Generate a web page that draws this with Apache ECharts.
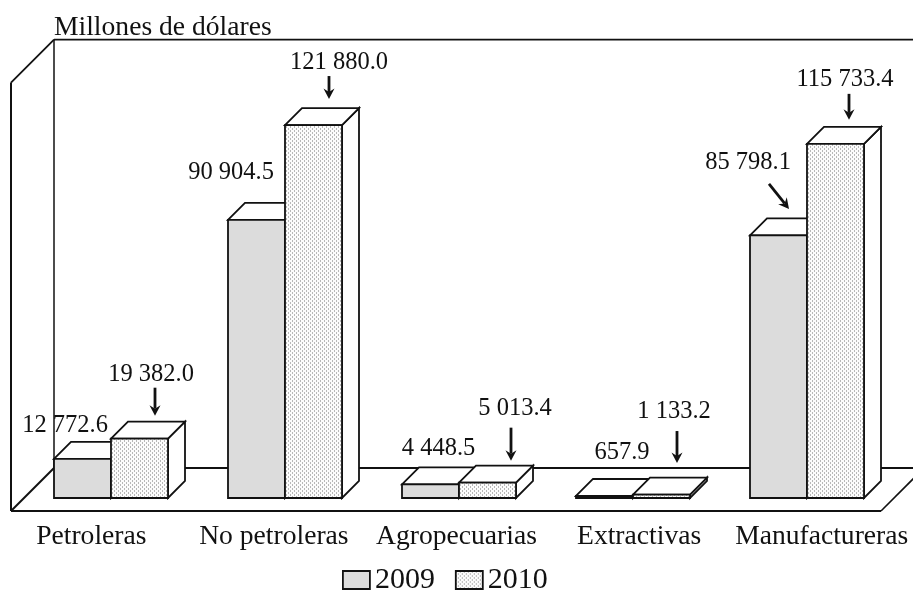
<!DOCTYPE html>
<html lang="es">
<head>
<meta charset="utf-8">
<title>Exportaciones</title>
<style>
  html, body { margin: 0; padding: 0; background: #fff; }
  #chart { width: 913px; height: 590px; }
</style>
<script src="https://cdn.jsdelivr.net/npm/echarts@6/dist/echarts.min.js"></script>
</head>
<body>
<div id="chart"></div>
<script>
// Values, in millions of dollars
const categories = ['Petroleras', 'No petroleras', 'Agropecuarias', 'Extractivas', 'Manufactureras'];
const values2009 = [12772.6, 90904.5, 4448.5, 657.9, 85798.1];
const values2010 = [19382.0, 121880.0, 5013.4, 1133.2, 115733.4];
const seriesNames = ['2009', '2010'];
const unitTitle = 'Millones de dólares';

// Callout placement, relative to the top centre of each bar's front face
const labelOffsets2009 = [[-17.5, -33], [-25.5, -47], [8, -36], [17.5, -43], [-30.5, -72.5]];
const labelOffsets2010 = [[11.5, -64], [25.5, -62], [27.5, -74], [12.5, -82.5], [9.5, -64]];
const arrows2009 = [null, null, null, null, [-9.5, -51.5, 10.5, -26.5]];
const arrows2010 = [
  [15.5, -51, 15.5, -23], [15.5, -49, 15.5, -26], [23.5, -55, 23.5, -22],
  [15.5, -63.5, 15.5, -31.5], [13.5, -50, 13.5, -24]
];

// Oblique projection of the box and of the floor
const BAR_WIDTH = 57;
const BAR_DEPTH = 17;
const WALL_BACK = 30;
const FLOOR_FRONT = 13;
const INK = '#111';
const FONT = '"Liberation Serif", "Times New Roman", serif';
const TEXT_SIZE = 27.6;
const VALUE_SIZE = 24.5;

// Stippled fill of the second series
function stipple() {
  const c = document.createElement('canvas');
  c.width = 4; c.height = 4;
  const g = c.getContext('2d');
  g.fillStyle = '#fcfcfc';
  g.fillRect(0, 0, 4, 4);
  g.fillStyle = '#b8b8b8';
  g.fillRect(0, 0, 1, 2);
  g.fillRect(2, 2, 1, 2);
  return c;
}
const FILL_2009 = '#dcdcdc';
const FILL_2010 = { image: stipple(), repeat: 'repeat' };

const formatValue = v => {
  const [whole, dec] = v.toFixed(1).split('.');
  return whole.replace(/\B(?=(\d{3})+$)/g, ' ') + '.' + dec;
};

function face(points, fill) {
  return {
    type: 'polygon',
    shape: { points },
    style: { fill, stroke: INK, lineWidth: 1.8, lineJoin: 'miter' }
  };
}

function arrow(x1, y1, x2, y2) {
  const a = Math.atan2(y2 - y1, x2 - x1);
  const ux = Math.cos(a), uy = Math.sin(a);
  const back = 10.5, half = 5.5, notch = 7;
  return [
    {
      type: 'line',
      shape: { x1, y1, x2: x2 - ux * notch, y2: y2 - uy * notch },
      style: { stroke: INK, lineWidth: 2.8 }
    },
    {
      type: 'polygon',
      shape: {
        points: [
          [x2, y2],
          [x2 - ux * back - uy * half, y2 - uy * back + ux * half],
          [x2 - ux * notch, y2 - uy * notch],
          [x2 - ux * back + uy * half, y2 - uy * back - ux * half]
        ]
      },
      style: { fill: INK }
    }
  ];
}

// One 3D bar: front, top and side faces, with its value callout
function barRenderer(side, fill, labelOffsets, arrowList) {
  return function (params, api) {
    const i = api.value(0);
    const v = api.value(1);
    const [cx, top] = api.coord([i, v]);
    const [, base] = api.coord([i, 0]);
    const x0 = side === 0 ? cx - BAR_WIDTH : cx;
    const x1 = x0 + BAR_WIDTH;
    const d = BAR_DEPTH;
    const mid = (x0 + x1) / 2;
    const children = [
      face([[x1, top], [x1 + d, top - d], [x1 + d, base - d], [x1, base]], '#fff'),
      face([[x0, top], [x0 + d, top - d], [x1 + d, top - d], [x1, top]], '#fff'),
      face([[x0, top], [x1, top], [x1, base], [x0, base]], fill)
    ];
    const off = labelOffsets[i];
    children.push({
      type: 'text',
      style: {
        text: formatValue(v),
        x: mid + off[0],
        y: top + off[1],
        align: 'center',
        verticalAlign: 'middle',
        font: VALUE_SIZE + 'px ' + FONT,
        fill: '#111'
      }
    });
    const ar = arrowList[i];
    if (ar) {
      children.push(...arrow(mid + ar[0], top + ar[1], mid + ar[2], top + ar[3]));
    }
    return { type: 'group', children };
  };
}

// Side wall, back wall and floor of the box, derived from the plot rectangle
function renderFrame(params) {
  const r = params.coordSys;
  const left = r.x, right = r.x + r.width, top = r.y, base = r.y + r.height;
  const b = WALL_BACK, f = FLOOR_FRONT;
  const seg = (x1, y1, x2, y2, w) => ({
    type: 'line',
    shape: { x1, y1, x2, y2 },
    style: { stroke: INK, lineWidth: w }
  });
  return {
    type: 'group',
    children: [
      seg(left + b, top - b, left + b, base - b, 1.5),
      seg(left + b, top - b, right + b, top - b, 1.8),
      seg(left + b, base - b, right + b, base - b, 1.8),
      seg(left - f, top + f, left + b, top - b, 1.8),
      seg(left - f, top + f, left - f, base + f, 2),
      seg(left - f, base + f, left + b, base - b, 1.9),
      seg(left - f, base + f, right - f, base + f, 2.2),
      seg(right - f, base + f, right + b, base - b, 1.6)
    ]
  };
}

const chart = echarts.init(document.getElementById('chart'), null, { renderer: 'canvas' });
chart.setOption({
  backgroundColor: '#fff',
  animation: false,
  title: {
    text: unitTitle,
    left: 54,
    top: 14,
    padding: 0,
    textStyle: { fontFamily: FONT, fontSize: TEXT_SIZE, fontWeight: 'normal', color: '#111' }
  },
  legend: {
    left: 342,
    top: 565,
    padding: 0,
    itemWidth: 27,
    itemHeight: 18,
    itemGap: 20,
    selectedMode: false,
    textStyle: { fontFamily: FONT, fontSize: 30, color: '#111', padding: [0, 0, 0, 0] },
    data: [
      { name: seriesNames[0], icon: 'rect', itemStyle: { color: FILL_2009, borderColor: INK, borderWidth: 1.8 } },
      { name: seriesNames[1], icon: 'rect', itemStyle: { color: FILL_2010, borderColor: INK, borderWidth: 1.8 } }
    ]
  },
  // The first grid holds the bars; the wider second one spreads the floor captions
  grid: [
    { left: 24, width: 870, top: 69.6, height: 428.4 },
    { left: -1.5, width: 915, top: 69.6, height: 441.4 }
  ],
  xAxis: [
    {
      type: 'category', gridIndex: 0, data: categories,
      axisLine: { show: false }, axisTick: { show: false }, axisLabel: { show: false }
    },
    {
      type: 'category', gridIndex: 1, data: categories,
      axisLine: { show: false }, axisTick: { show: false },
      axisLabel: { interval: 0, margin: 12, fontFamily: FONT, fontSize: TEXT_SIZE, color: '#111' }
    }
  ],
  yAxis: [
    { type: 'value', gridIndex: 0, min: 0, max: 140000, show: false },
    { type: 'value', gridIndex: 1, min: 0, max: 140000, show: false }
  ],
  series: [
    {
      type: 'custom',
      name: 'frame',
      xAxisIndex: 0, yAxisIndex: 0,
      coordinateSystem: 'cartesian2d',
      renderItem: renderFrame,
      data: [[0, 0]],
      silent: true,
      z: 1
    },
    {
      type: 'custom',
      name: seriesNames[0],
      xAxisIndex: 0, yAxisIndex: 0,
      renderItem: barRenderer(0, FILL_2009, labelOffsets2009, arrows2009),
      data: values2009.map((v, i) => [i, v]),
      encode: { x: 0, y: 1 },
      clip: false,
      z: 2
    },
    {
      type: 'custom',
      name: seriesNames[1],
      xAxisIndex: 0, yAxisIndex: 0,
      renderItem: barRenderer(1, FILL_2010, labelOffsets2010, arrows2010),
      data: values2010.map((v, i) => [i, v]),
      encode: { x: 0, y: 1 },
      clip: false,
      z: 3
    }
  ]
});
</script>
</body>
</html>
